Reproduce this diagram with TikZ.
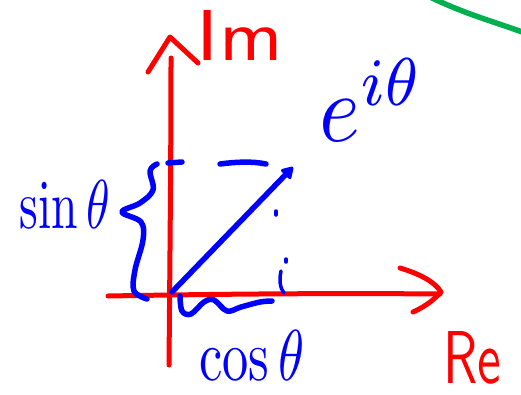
\documentclass[tikz,border=0pt]{standalone}
\usetikzlibrary{arrows.meta}
\definecolor{penred}{RGB}{255,0,0}
\definecolor{penblue}{RGB}{0,0,255}
\definecolor{pengreen}{RGB}{0,176,80}
\begin{document}
\begin{tikzpicture}[x=1pt,y=-1pt,
  redpen/.style={draw=penred,line width=5pt,line cap=round,line join=round},
  bluepen/.style={draw=penblue,line width=5.5pt,line cap=round,line join=round},
  thinblue/.style={draw=penblue,line width=3.5pt,line cap=round},
  redlabel/.style={text=penred,inner sep=0pt},
  bluelabel/.style={text=penblue,inner sep=0pt}]
\useasboundingbox (0,0) rectangle (521,394);
% green arc
\draw[draw=pengreen,line width=5.5pt] (430,-3) .. controls (465,14) and (495,22) .. (525,33);
% axes
\coordinate (ybot) at (169,365);
\coordinate (ytop) at (171,58);
\coordinate (ytip) at (170,37);
\coordinate (yl) at (148,72);
\coordinate (yr) at (198,63);
\draw[redpen] (ybot) .. controls (170,250) and (171,150) .. (ytop);
\draw[redpen] (yl) -- (ytip) -- (yr);
\coordinate (xl) at (108,296);
\coordinate (xr) at (440,294);
\coordinate (xtip) at (441,292);
\coordinate (xu) at (400,268);
\coordinate (xd) at (413,312);
\draw[redpen] (xl) .. controls (220,294) and (330,293) .. (xr);
\draw[redpen] (xu) .. controls (420,274) and (435,282) .. (xtip) .. controls (432,302) and (422,308) .. (xd);
% labels
\node[redlabel] (im) at (240,35) {\resizebox{86pt}{50pt}{\sffamily Im}};
\node[redlabel] (re) at (472,358) {\resizebox{58pt}{52pt}{\sffamily Re}};
\node[bluelabel] (eith) at (372,100) {\resizebox{105pt}{82pt}{$e^{i\theta}$}};
\node[bluelabel] (sin) at (65,204) {\resizebox{90pt}{48pt}{$\sin\theta$}};
\node[bluelabel] (cos) at (252,355) {\resizebox{105pt}{50pt}{$\cos\theta$}};
% vector
\coordinate (o) at (172,292);
\coordinate (p) at (293,167);
\draw[bluepen,-{Triangle[length=13pt,width=15pt,round]}] (o) -- (p);
% dashes
\coordinate (d1a) at (168,163);
\coordinate (d1b) at (182,162);
\draw[bluepen] (d1a) -- (d1b);
\coordinate (d2a) at (220,164);
\coordinate (d2b) at (266,164);
\draw[bluepen] (d2a) .. controls (235,162) and (252,161) .. (d2b);
% dots and small stroke
\coordinate (dt1) at (276,211);
\coordinate (dt1b) at (276,215);
\draw[thinblue] (dt1) -- (dt1b);
\coordinate (dt2) at (286,259);
\coordinate (dt2b) at (286,262);
\draw[thinblue] (dt2) -- (dt2b);
\coordinate (sa) at (281,271);
\coordinate (sb) at (284,293);
\draw[thinblue] (sa) .. controls (279,280) and (280,288) .. (sb);
% brace (sin)
\draw[bluepen] plot[smooth,tension=0.6] coordinates {(157,164) (150,171) (153,190) (140,203) (122,212) (141,222) (143,240) (135,270) (134,291) (147,299)};
% wavy underbrace (cos)
\draw[bluepen] plot[smooth,tension=0.6] coordinates {(180,296) (182,311) (191,314) (204,302) (214,300) (227,311) (241,307) (260,302) (272,301)};
\end{tikzpicture}
\end{document}
